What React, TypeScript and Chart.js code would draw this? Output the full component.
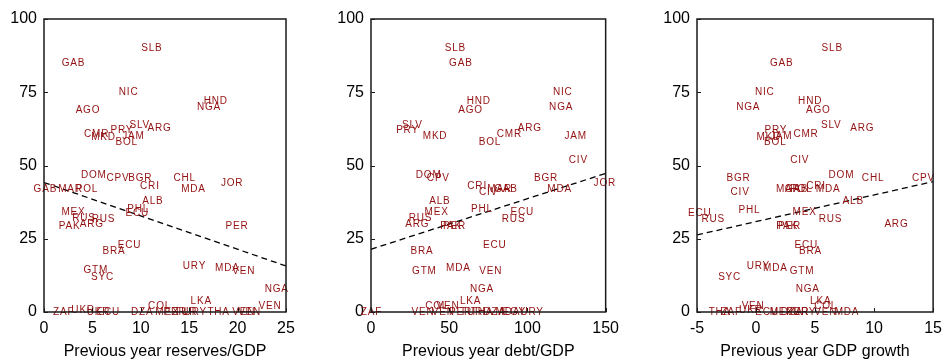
import React, { useEffect, useRef } from "react";
import { Chart, registerables } from "chart.js";
Chart.register(...registerables);

const FONT = "'Liberation Sans', Arial, Helvetica, sans-serif";
const LABEL_COLOR = "#921010";

const yTicks = [0, 25, 50, 75, 100];

// Panel 1: reserves/GDP
const p1Title = "Previous year reserves/GDP";
const p1XTicks = [0, 5, 10, 15, 20, 25];
const p1Codes = ["SLB","GAB","NIC","HND","NGA","AGO","SLV","ARG","PRY","CMR","MKD","JAM","BOL","DOM","CPV","BGR","CRI","CHL","MDA","JOR","GAB","MAR","POL","ALB","PHL","ECU","MEX","RUS","RUS","ARG","PAK","PER","ECU","BRA","URY","MDA","VEN","GTM","SYC","NGA","LKA","VEN","COL","ZAF","UKR","UKR","ECU","DZA","MEX","PER","TUR","URY","THA","VEN","VEN"];
const p1X = [11.1,3.0,8.7,17.7,17.0,4.5,9.85,11.9,8.0,5.4,6.1,9.2,8.5,5.1,7.6,9.9,10.9,14.5,15.4,19.4,0.1,2.7,4.4,11.2,9.7,9.6,3.0,4.1,6.1,4.9,2.6,19.9,8.8,7.2,15.5,18.9,20.6,5.3,6.0,24.0,16.2,23.3,11.9,2.0,4.0,5.6,6.6,10.1,12.7,13.5,14.6,15.6,18.0,20.6,21.2];
const p1Y = [90,85,75,72,70,69,63.6,62.7,62.1,60.8,59.8,60,57.8,46.8,45.6,45.6,43,45.6,41.9,43.9,42,41.9,41.9,37.9,35,33.7,33.9,32,31.6,29.9,29.1,29.1,22.9,20.9,15.7,14.9,14.0,14.1,11.8,7.7,3.75,1.8,1.8,0,0.7,0,0,0,0,0,0,0,0,0,0];
const p1FitX = [0, 25];
const p1FitY = [44.2, 15.7];

// Panel 2: debt/GDP
const p2Title = "Previous year debt/GDP";
const p2XTicks = [0, 50, 100, 150];
const p2Codes = ["SLB","GAB","HND","AGO","NIC","NGA","SLV","PRY","MKD","ARG","CMR","BOL","JAM","CIV","DOM","CPV","BGR","MDA","JOR","CRI","CIV","MAR","GAB","ALB","MEX","RUS","ARG","PHL","ECU","RUS","PAK","PER","ECU","BRA","GTM","MDA","VEN","NGA","LKA","COL","VEN","ZAF","VEN","VEN","PER","TUR","THA","DZA","MDA","EGY","URY"];
const p2X = [53.7,57.2,68.6,63.4,122.3,121.3,26.2,23.1,40.7,101.3,88.2,75.8,130.6,132.3,36.6,42.8,111.6,120.3,149.2,67.6,74.8,82,86,43.8,41.7,31.4,29.3,70.7,96.5,90.9,51,53.1,78.9,32.4,33.9,55.6,76.3,70.7,63.4,41.7,49,0,33,45.9,57,64,70.7,78.7,87.2,91.3,102.7];
const p2Y = [90,85,72,69,75,70,63.6,62,60,62.7,60.8,57.8,60,51.9,46.8,45.6,45.6,41.9,43.9,43,40.9,41.9,41.9,37.9,33.9,32,29.9,35,33.9,31.6,29.1,29.1,22.9,20.9,14.0,14.9,14.0,7.7,3.75,1.8,1.8,0,0,0,0,0,0,0,0,0,0];
const p2FitX = [0, 150];
const p2FitY = [21.4, 47.3];

// Panel 3: GDP growth
const p3Title = "Previous year GDP growth";
const p3XTicks = [-5, 0, 5, 10, 15];
const p3Codes = ["SLB","GAB","NIC","NGA","HND","AGO","SLV","ARG","PRY","MKD","JAM","BOL","CMR","CIV","BGR","CIV","DOM","CHL","CPV","CRI","MDA","MAR","POL","GAB","ALB","MEX","PHL","ECU","RUS","RUS","ARG","PAK","PER","ECU","BRA","URY","MDA","GTM","SYC","NGA","LKA","COL","VEN","THA","ZAF","UKR","ECU","MEX","DZA","PER","URY","VEN","MDA"];
const p3X = [6.42,2.14,0.71,-0.7,4.55,5.24,6.34,8.97,1.65,1.04,2.1,1.6,4.2,3.67,-1.52,-1.38,7.2,9.88,14.15,5.05,6.07,2.7,3.8,3.4,8.2,4.08,-0.6,-4.8,-3.65,6.28,11.86,2.6,2.8,4.22,4.58,0.16,1.6,3.86,-2.27,4.35,5.45,5.87,-0.28,-3.1,-2.13,-0.47,0.9,2.14,3.0,3.5,4.08,5.87,7.67];
const p3Y = [90,85,75,70,72,69,63.6,62.7,62.1,59.8,60,57.8,60.8,51.9,45.6,40.9,46.8,45.6,45.6,43,41.9,41.9,41.9,41.9,37.9,33.9,34.8,33.7,31.7,31.7,29.9,29.1,29.1,22.9,20.9,15.7,14.9,14,11.8,7.7,3.75,1.8,1.8,0,0,0.7,0,0,0,0,0,0,0];
const p3FitX = [-5, 15];
const p3FitY = [26.3, 44.5];

type PanelProps = {
  left: number; width: number; yAxisW: number; padRight: number;
  codes: string[]; xs: number[]; ys: number[]; fitX: number[]; fitY: number[];
  xTicks: number[]; title: string;
};

function Panel(p: PanelProps) {
  const ref = useRef<HTMLCanvasElement>(null);
  useEffect(() => {
    const labelPlugin = {
      id: "codeLabels",
      afterDatasetsDraw(chart: any) {
        const ctx = chart.ctx;
        const meta = chart.getDatasetMeta(1);
        ctx.save();
        ctx.font = `10px ${FONT}`;
        (ctx as any).letterSpacing = "0.8px";
        ctx.fillStyle = LABEL_COLOR;
        ctx.textAlign = "center";
        ctx.textBaseline = "middle";
        meta.data.forEach((el: any, i: number) => {
          ctx.fillText(p.codes[i], el.x + 0.4, el.y);
        });
        ctx.restore();
      },
      afterDraw(chart: any) {
        const ctx = chart.ctx;
        const a = chart.chartArea;
        ctx.save();
        ctx.strokeStyle = "#1a1a1a";
        ctx.lineWidth = 1.5;
        ctx.strokeRect(a.left, a.top, a.right - a.left, a.bottom - a.top);
        ctx.lineWidth = 1;
        ctx.beginPath();
        const xs = chart.scales.x, ys = chart.scales.y;
        p.xTicks.forEach((v) => {
          const px = Math.round(xs.getPixelForValue(v)) + 0.5;
          ctx.moveTo(px, a.bottom);
          ctx.lineTo(px, a.bottom - 4);
        });
        yTicks.forEach((v) => {
          const py = Math.round(ys.getPixelForValue(v)) + 0.5;
          ctx.moveTo(a.left, py);
          ctx.lineTo(a.left + 4, py);
        });
        ctx.stroke();
        ctx.restore();
      },
    };
    const chart = new Chart(ref.current!, {
      type: "scatter",
      data: {
        datasets: [
          {
            data: p.fitX.map((x, i) => ({ x, y: p.fitY[i] })),
            showLine: true,
            borderColor: "#000",
            borderWidth: 1.3,
            borderDash: [6, 4],
            pointRadius: 0,
            fill: false,
          } as any,
          {
            data: p.xs.map((x, i) => ({ x, y: p.ys[i] })),
            pointRadius: 0,
            showLine: false,
          },
        ],
      },
      options: {
        animation: false,
        responsive: false,
        devicePixelRatio: 1,
        layout: { padding: { left: 0, right: p.padRight, top: 19, bottom: 0 } },
        plugins: { legend: { display: false }, tooltip: { enabled: false } },
        scales: {
          x: {
            type: "linear",
            min: p.xTicks[0],
            max: p.xTicks[p.xTicks.length - 1],
            afterBuildTicks: (s: any) => { s.ticks = p.xTicks.map((v) => ({ value: v })); },
            afterFit: (s: any) => { s.height = 48; },
            ticks: { font: { family: FONT, size: 16 }, color: "#000", padding: 7, maxRotation: 0, autoSkip: false },
            grid: { display: false, drawTicks: false },
            border: { display: false },
            title: { display: true, text: p.title, font: { family: FONT, size: 16, lineHeight: 1 }, color: "#000", padding: 0 },
          },
          y: {
            type: "linear",
            min: 0,
            max: 100,
            afterBuildTicks: (s: any) => { s.ticks = yTicks.map((v) => ({ value: v })); },
            afterFit: (s: any) => { s.width = p.yAxisW; },
            ticks: { font: { family: FONT, size: 16 }, color: "#000", padding: 7, autoSkip: false },
            grid: { display: false, drawTicks: false },
            border: { display: false },
          },
        },
      } as any,
      plugins: [labelPlugin],
    });
    return () => chart.destroy();
  }, []);
  return (
    <canvas
      ref={ref}
      width={p.width}
      height={360}
      style={{ position: "absolute", left: p.left, top: 0, width: p.width, height: 360 }}
    />
  );
}

export default function App() {
  return (
    <div style={{ position: "fixed", left: 0, top: 0, width: 949, height: 360, background: "#fff", overflow: "hidden" }}>
      <Panel left={0} width={310} yAxisW={44} padRight={24} codes={p1Codes} xs={p1X} ys={p1Y} fitX={p1FitX} fitY={p1FitY} xTicks={p1XTicks} title={p1Title} />
      <Panel left={316} width={310} yAxisW={55} padRight={13} codes={p2Codes} xs={p2X} ys={p2Y} fitX={p2FitX} fitY={p2FitY} xTicks={p2XTicks} title={p2Title} />
      <Panel left={632} width={317} yAxisW={65} padRight={11} codes={p3Codes} xs={p3X} ys={p3Y} fitX={p3FitX} fitY={p3FitY} xTicks={p3XTicks} title={p3Title} />
    </div>
  );
}
